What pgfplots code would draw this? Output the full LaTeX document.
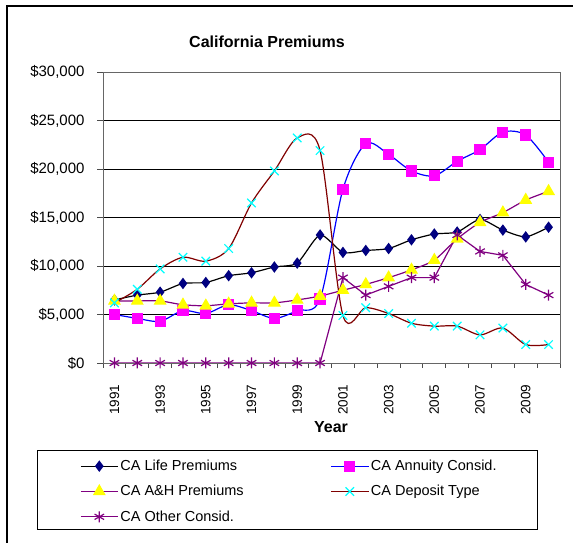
\documentclass[border=0pt]{standalone}
\usepackage{fontspec}
\setmainfont{Liberation Sans}
\usepackage{pgfplots}
\pgfplotsset{compat=1.18}

\definecolor{lifenavy}{RGB}{0,0,128}
\definecolor{annblue}{RGB}{0,0,255}
\definecolor{annmag}{RGB}{255,0,255}
\definecolor{ahpurple}{RGB}{128,0,128}
\definecolor{ahyellow}{RGB}{255,255,0}
\definecolor{depred}{RGB}{128,0,0}
\definecolor{depcyan}{RGB}{0,255,255}

\begin{document}
\begin{tikzpicture}
\useasboundingbox (0pt,0pt) rectangle (573pt,543pt);
\draw[line width=1.2pt] (7pt,-5pt) -- (7pt,537pt) -- (590pt,537pt);
\node[font=\bfseries\fontsize{16}{19}\selectfont] at (267pt,501pt) {California Premiums};
\draw[line width=0.8pt] (37pt,14pt) rectangle (537pt,93pt);

\begin{axis}[
  at={(103pt,180pt)}, anchor=south west,
  scale only axis, width=457pt, height=291pt,
  xmin=1990.5, xmax=2010.5, ymin=0, ymax=30000,
  axis line style={draw=black!60},
  ytick={0,5000,...,30000},
  scaled y ticks=false,
  yticklabel={\$\pgfmathprintnumber[/pgf/number format/1000 sep={,}]{\tick}},
  /pgf/number format/assume math mode=true,
  xtick={1991,1993,...,2009},
  xticklabels={1991,1993,1995,1997,1999,2001,2003,2005,2007,2009},
  minor xtick={1990.5,1991.5,...,2010.5},
  major x tick style={draw=none},
  minor x tick style={draw=black!70, line width=0.8pt},
  y tick style={draw=black!70, line width=0.8pt},
  tick align=outside, major tick length=6pt, minor tick length=5pt,
  xtick pos=bottom, ytick pos=left,
  ymajorgrids, grid style={black, line width=0.7pt},
  yticklabel style={font=\fontsize{15}{18}\selectfont},
  xticklabel style={font=\fontsize{13.5}{16}\selectfont, rotate=90, anchor=east},
  xticklabel shift=12pt,
  yticklabel shift=9pt,
  xlabel={Year},
  xlabel style={font=\bfseries\fontsize{16}{19}\selectfont, at={(axis description cs:0.499,-0.22)}, anchor=center},
  legend columns=2,
  legend style={draw=none, fill=none, inner sep=0pt,
    at={(axis description cs:-0.0503,-0.3264)}, anchor=north west,
    font=\fontsize{14.5}{17}\selectfont,
    nodes={inner sep=2pt},
    row sep=9.3pt,
    /tikz/every even column/.append style={column sep=85pt}},
  legend cell align=left,
  legend image code/.code={\draw[mark repeat=2,mark phase=2] plot coordinates {(0pt,0pt)(18.5pt,0pt)(37pt,0pt)};},
]
\addplot[black, line width=1.2pt, smooth, tension=0.4, mark=diamond*, mark size=4.8pt,
  mark options={solid, fill=lifenavy, draw=lifenavy}] coordinates {
  (1991,6500)(1992,7000)(1993,7300)(1994,8200)(1995,8300)(1996,9000)(1997,9300)
  (1998,9900)(1999,10300)(2000,13200)(2001,11400)(2002,11600)(2003,11800)(2004,12700)
  (2005,13300)(2006,13500)(2007,14800)(2008,13700)(2009,13000)(2010,14000)};
\addlegendentry{CA Life Premiums}
\addplot[annblue, line width=1.2pt, smooth, tension=0.5, mark=square*, mark size=5pt,
  mark options={solid, fill=annmag, draw=annmag}] coordinates {
  (1991,5000)(1992,4600)(1993,4300)(1994,5400)(1995,5100)(1996,6000)(1997,5400)
  (1998,4600)(1999,5400)(2000,6600)(2001,17900)(2002,22600)(2003,21500)(2004,19800)
  (2005,19300)(2006,20800)(2007,22000)(2008,23800)(2009,23500)(2010,20700)};
\addlegendentry{CA Annuity Consid.}
\addplot[ahpurple, line width=1.2pt, smooth, tension=0.4, mark=triangle*, mark size=6.3pt,
  mark options={solid, fill=ahyellow, draw=ahyellow}] coordinates {
  (1991,6400)(1992,6400)(1993,6400)(1994,6000)(1995,5900)(1996,6100)(1997,6200)
  (1998,6200)(1999,6500)(2000,6900)(2001,7500)(2002,8100)(2003,8800)(2004,9600)
  (2005,10600)(2006,12800)(2007,14500)(2008,15500)(2009,16800)(2010,17700)};
\addlegendentry{CA A\&H Premiums}
\addplot[depred, line width=1.2pt, smooth, tension=0.5, mark=x, mark size=6pt,
  mark options={solid, draw=depcyan, line width=1.2pt}] coordinates {
  (1991,6200)(1992,7600)(1993,9700)(1994,10900)(1995,10500)(1996,11800)(1997,16500)
  (1998,19800)(1999,23200)(2000,21900)(2001,4900)(2002,5700)(2003,5100)(2004,4100)
  (2005,3800)(2006,3800)(2007,2900)(2008,3600)(2009,1900)(2010,1900)};
\addlegendentry{CA Deposit Type}
\addplot[ahpurple, line width=1.2pt, mark=asterisk, mark size=5.5pt,
  mark options={solid, draw=ahpurple, line width=1.2pt}] coordinates {
  (1991,0)(1992,0)(1993,0)(1994,0)(1995,0)(1996,0)(1997,0)
  (1998,0)(1999,0)(2000,0)(2001,8800)(2002,7000)(2003,7900)(2004,8800)
  (2005,8800)(2006,13200)(2007,11500)(2008,11100)(2009,8100)(2010,7000)};
\addlegendentry{CA Other Consid.}
\end{axis}
\end{tikzpicture}
\end{document}
